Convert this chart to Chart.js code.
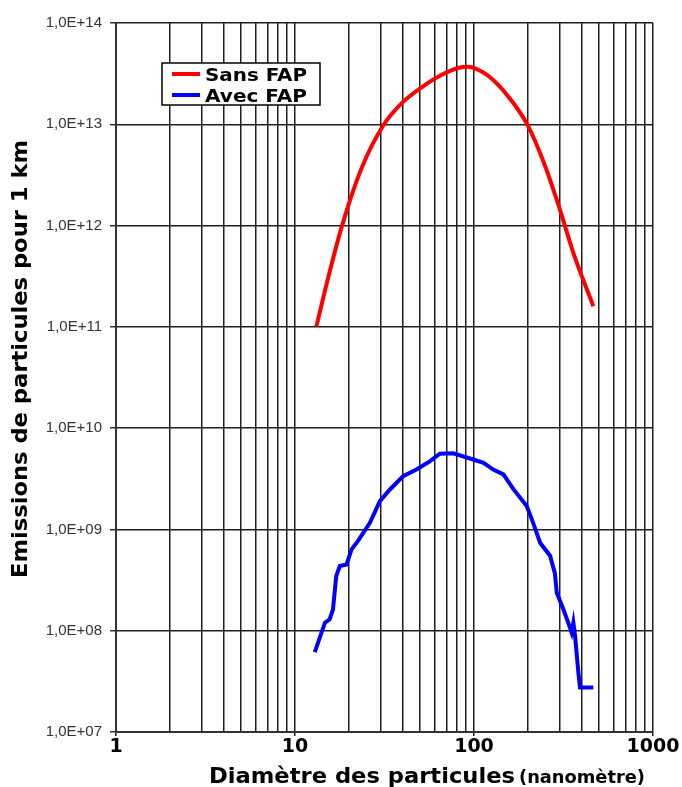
<!DOCTYPE html>
<html><head><meta charset="utf-8">
<script src="https://cdn.jsdelivr.net/npm/chart.js@4.4.0/dist/chart.umd.min.js"></script>
<style>html,body{margin:0;padding:0;background:#fff;} #wrap{width:682px;height:787px;}</style>
</head><body><div id="wrap"><canvas id="c" width="682" height="787"></canvas></div>
<script>
// ---- data ----
const seriesNames = ['Sans FAP', 'Avec FAP'];
const diamSans = [13.17, 15.43, 18.32, 23.6, 31.3, 39.5, 49.8, 64.5, 83.4, 91.3, 99.9, 127.6, 165, 200, 244, 302, 359, 464];
const emisSans = [1.01e11, 3.21e11, 1.0e12, 3.73e12, 9.9e12, 1.62e13, 2.25e13, 3.02e13, 3.64e13, 3.7e13, 3.6e13, 2.76e13, 1.64e13, 9.7e12, 4.31e12, 1.44e12, 5.38e11, 1.6e11];
const diamAvec = [12.9, 14.7, 15.6, 16.3, 17.0, 17.8, 19.4, 20.7, 22.5, 26.2, 29.8, 33.9, 40.2, 47.7, 56.6, 64.4, 76.5, 99, 113, 128, 146, 166, 197, 214, 234, 266, 283, 290, 316, 336, 351, 359, 367, 383, 391, 464];
const emisAvec = [6.15e7, 1.2e8, 1.29e8, 1.62e8, 3.47e8, 4.35e8, 4.5e8, 6.35e8, 7.7e8, 1.16e9, 1.9e9, 2.48e9, 3.36e9, 3.9e9, 4.7e9, 5.6e9, 5.65e9, 4.9e9, 4.55e9, 3.9e9, 3.5e9, 2.5e9, 1.7e9, 1.16e9, 7.4e8, 5.5e8, 3.7e8, 2.37e8, 1.62e8, 1.2e8, 9.6e7, 1.2e8, 8.9e7, 3.85e7, 2.75e7, 2.75e7];
const xGridValues = [1,2,3,4,5,6,7,8,9,10,20,30,40,50,60,70,80,90,100,200,300,400,500,600,700,800,900,1000];
const xTickLabels = ['1', '10', '100', '1000'];
const yTickValues = [1e7, 1e8, 1e9, 1e10, 1e11, 1e12, 1e13, 1e14];
const xTitleMain = 'Diamètre des particules';
const xTitleUnit = '(nanomètre)';
const yTitle = 'Emissions de particules pour 1 km';

function toPoints(xs, ys) { return xs.map((x, i) => ({x: x, y: ys[i]})); }

function drawFitted(ctx, text, x, y, font, width) {
  ctx.save();
  ctx.font = font;
  const w = ctx.measureText(text).width;
  ctx.translate(x, y);
  ctx.scale(width / w, 1);
  ctx.textAlign = 'left';
  ctx.textBaseline = 'alphabetic';
  ctx.fillText(text, 0, 0);
  ctx.restore();
}

const decorPlugin = {
  id: 'decor',
  afterDraw(chart) {
    const ctx = chart.ctx;
    ctx.save();
    ctx.fillStyle = '#000';
    // y title
    ctx.save();
    ctx.translate(27, 578);
    ctx.rotate(-Math.PI / 2);
    drawFitted(ctx, yTitle, 0, 0, 'bold 21px "DejaVu Sans"', 438);
    ctx.restore();
    // x title
    drawFitted(ctx, xTitleMain, 209, 783, 'bold 22px "DejaVu Sans"', 306);
    drawFitted(ctx, xTitleUnit, 519, 783, 'bold 17px "DejaVu Sans"', 126);
    // legend
    ctx.fillStyle = '#fff';
    ctx.fillRect(162, 63, 158, 42);
    ctx.strokeStyle = '#000';
    ctx.lineWidth = 1.5;
    ctx.strokeRect(162, 63, 158, 42);
    const ys = [74, 95];
    chart.data.datasets.forEach((ds, i) => {
      ctx.strokeStyle = ds.borderColor;
      ctx.lineWidth = 4;
      ctx.beginPath();
      ctx.moveTo(172, ys[i]);
      ctx.lineTo(200, ys[i]);
      ctx.stroke();
      ctx.fillStyle = '#000';
      drawFitted(ctx, ds.label, 205, ys[i] + 6.5, 'bold 17px "DejaVu Sans"', 102);
    });
    ctx.restore();
  }
};

new Chart(document.getElementById('c'), {
  type: 'scatter',
  data: {
    datasets: [
      { label: seriesNames[0], data: toPoints(diamSans, emisSans), showLine: true, borderColor: '#ff0000', backgroundColor: '#ff0000', borderWidth: 4, pointRadius: 0, cubicInterpolationMode: 'monotone' },
      { label: seriesNames[1], data: toPoints(diamAvec, emisAvec), showLine: true, borderColor: '#0000ff', backgroundColor: '#0000ff', borderWidth: 4, pointRadius: 0, tension: 0 }
    ]
  },
  options: {
    responsive: false,
    animation: false,
    devicePixelRatio: 1,
    layout: { padding: { left: 0, top: 23, right: 29, bottom: 0 } },
    plugins: { legend: { display: false }, tooltip: { enabled: false }, title: { display: false } },
    scales: {
      x: {
        type: 'logarithmic', min: 1, max: 1000,
        afterBuildTicks(scale) { scale.ticks = xGridValues.map(v => ({ value: v })); },
        afterFit(scale) { scale.height = 55; scale.paddingLeft = 0; scale.paddingRight = 0; },
        grid: {
          color: '#1e1e1e', lineWidth: 1.5, tickLength: 4,
          tickColor: (c) => (c.tick && xTickLabels.includes(String(c.tick.value))) ? '#1e1e1e' : 'rgba(0,0,0,0)'
        },
        border: { color: '#333', width: 2 },
        ticks: {
          autoSkip: false, maxRotation: 0, padding: 0, color: '#000',
          font: { family: 'DejaVu Sans', weight: 'bold', size: 19 },
          callback: (v) => xTickLabels.includes(String(v)) ? String(v) : ''
        }
      },
      y: {
        type: 'logarithmic', min: 1e7, max: 1e14,
        afterBuildTicks(scale) { scale.ticks = yTickValues.map(v => ({ value: v })); },
        afterFit(scale) { scale.width = 116; scale.paddingTop = 0; scale.paddingBottom = 0; },
        grid: { color: '#1e1e1e', lineWidth: 1.5, tickLength: 6, tickColor: '#333' },
        border: { color: '#333', width: 2 },
        ticks: {
          autoSkip: false, padding: 8, color: '#333',
          font: { family: 'Liberation Sans', size: 15 },
          callback: (v) => '1,0E+' + String(Math.round(Math.log10(v))).padStart(2, '0')
        }
      }
    }
  },
  plugins: [decorPlugin]
});
</script></body></html>
